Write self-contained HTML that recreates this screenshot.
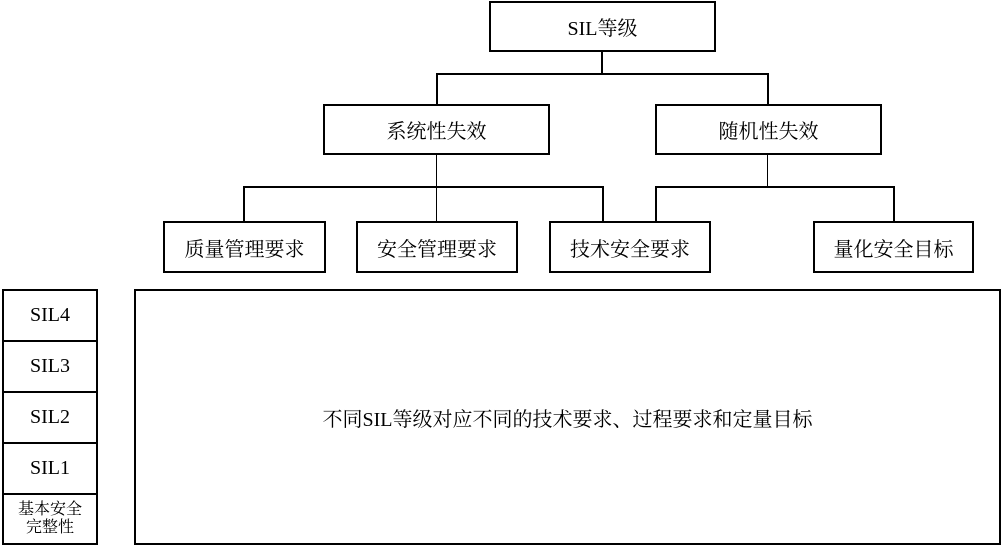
<!DOCTYPE html>
<html><head><meta charset="utf-8"><style>
body{margin:0;width:1003px;height:545px;background:#fff;position:relative;overflow:hidden;font-family:"Liberation Serif","Noto Serif CJK SC",serif;}
.b{position:absolute;box-sizing:border-box;border:2px solid #000;display:flex;align-items:center;justify-content:center;font-size:20px;color:#000;text-align:center;}
.l{position:absolute;background:#000;}
</style></head><body>
<div class="b" style="left:489px;top:1px;width:227px;height:51px;">SIL等级</div>
<div class="l" style="left:601px;top:51px;width:2px;height:23px"></div>
<div class="l" style="left:436px;top:73px;width:333px;height:2px"></div>
<div class="l" style="left:436px;top:73px;width:2px;height:32px"></div>
<div class="l" style="left:767px;top:73px;width:2px;height:32px"></div>
<div class="b" style="left:323px;top:104px;width:227px;height:51px;">系统性失效</div>
<div class="b" style="left:655px;top:104px;width:227px;height:51px;">随机性失效</div>
<div class="l" style="left:436px;top:154px;width:1px;height:68px"></div>
<div class="l" style="left:243px;top:186px;width:360px;height:2px"></div>
<div class="l" style="left:243px;top:186px;width:2px;height:36px"></div>
<div class="l" style="left:602px;top:186px;width:2px;height:36px"></div>
<div class="l" style="left:767px;top:154px;width:1px;height:33px"></div>
<div class="l" style="left:655px;top:186px;width:240px;height:2px"></div>
<div class="l" style="left:655px;top:186px;width:2px;height:36px"></div>
<div class="l" style="left:893px;top:186px;width:2px;height:36px"></div>
<div class="b" style="left:163px;top:221px;width:163px;height:52px;">质量管理要求</div>
<div class="b" style="left:356px;top:221px;width:162px;height:52px;">安全管理要求</div>
<div class="b" style="left:549px;top:221px;width:162px;height:52px;">技术安全要求</div>
<div class="b" style="left:813px;top:221px;width:161px;height:52px;">量化安全目标</div>
<div class="b" style="left:2px;top:289px;width:96px;height:53px;">SIL4</div>
<div class="b" style="left:2px;top:340px;width:96px;height:53px;">SIL3</div>
<div class="b" style="left:2px;top:391px;width:96px;height:53px;">SIL2</div>
<div class="b" style="left:2px;top:442px;width:96px;height:53px;">SIL1</div>
<div class="b" style="left:2px;top:493px;width:96px;height:52px;font-size:16px;line-height:18px;">基本安全<br>完整性</div>
<div class="b" style="left:134px;top:289px;width:867px;height:256px;">不同SIL等级对应不同的技术要求、过程要求和定量目标</div>
</body></html>
